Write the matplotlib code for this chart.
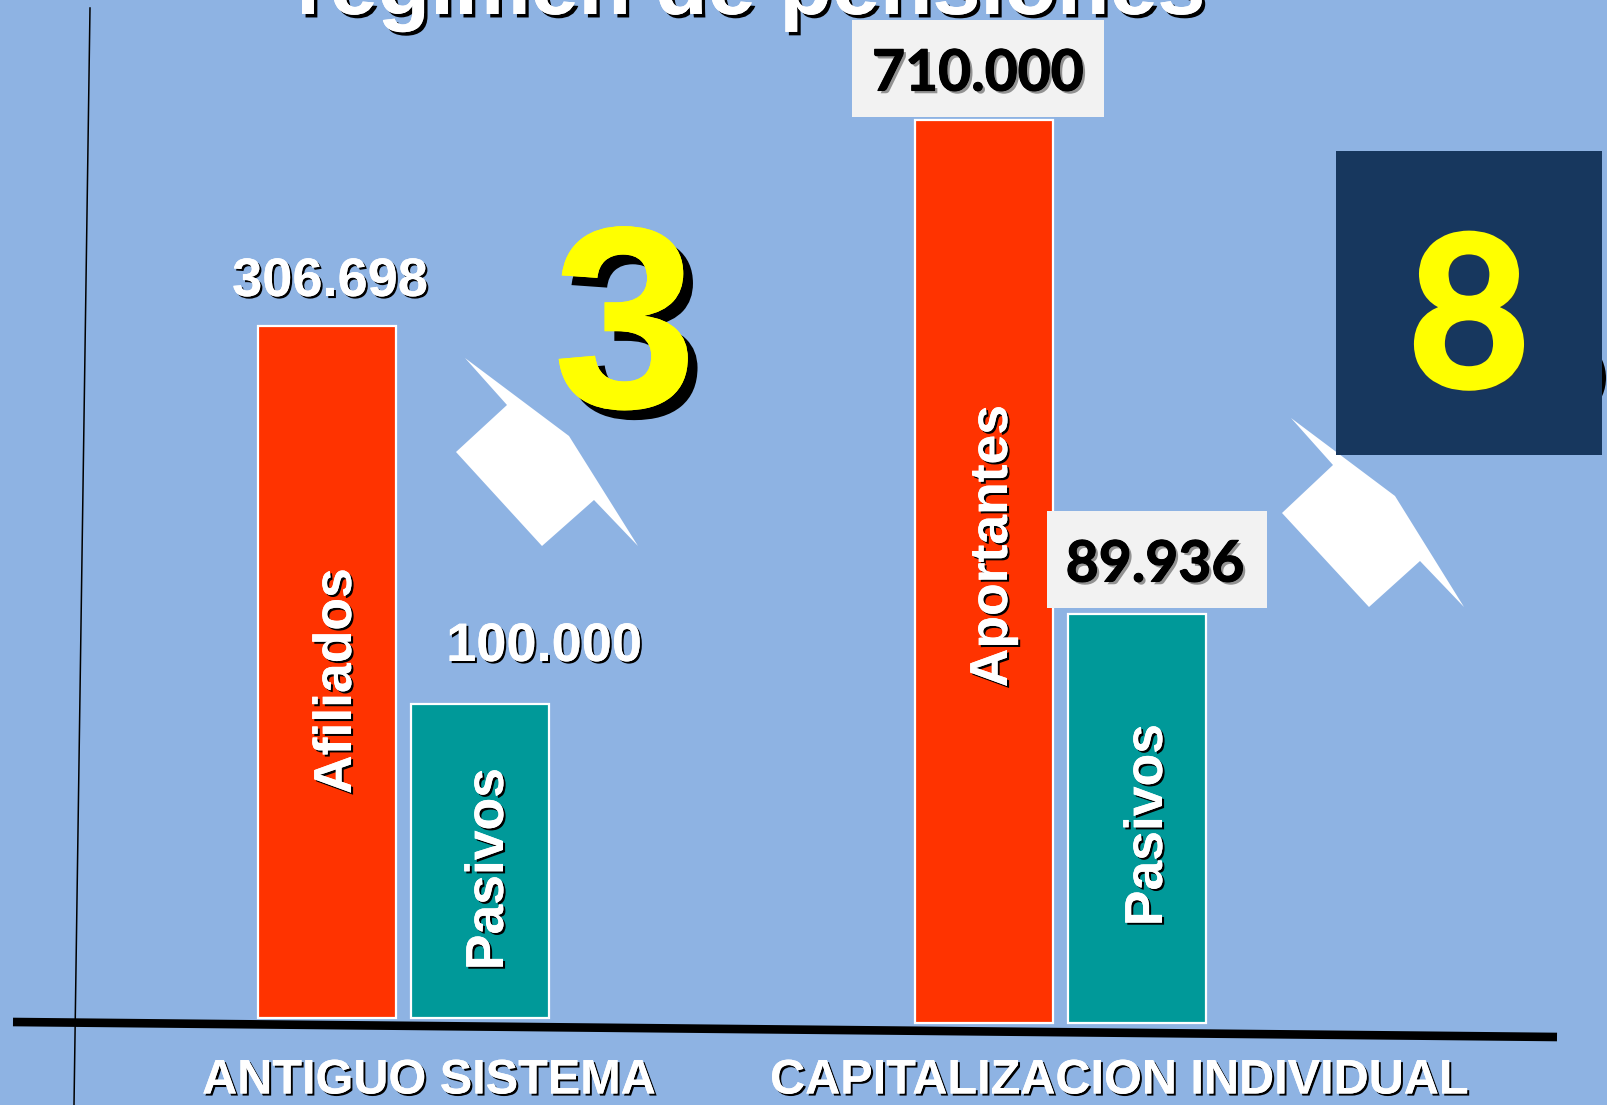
import matplotlib
matplotlib.use('Agg')
from matplotlib import pyplot as plt
from matplotlib import patches as mpatches
from matplotlib import patheffects as pe

# Bars (heights as drawn in the picture, the printed figures do not scale with them)
bar_names = ['Afiliados', 'Pasivos', 'Aportantes', 'Pasivos']
bar_heights = [692, 314, 903, 409]
bar_bases = [0, 0, -5, -5]
bar_left = [258, 411, 915, 1068]
bar_right = [396, 549, 1053, 1206]
bar_colors = ['#FF3300', '#009999', '#FF3300', '#009999']
value_labels = ['306.698', '100.000', '710.000', '89.936']
group_labels = ['ANTIGUO SISTEMA', 'CAPITALIZACION INDIVIDUAL']
title = 'regimen de pensiones'
bg = '#8EB3E3'

W, H = 1607, 1105
base_px = 1018

plt.rcParams['font.family'] = ['Liberation Sans', 'DejaVu Sans']
fig = plt.figure(figsize=(W/100., H/100.), dpi=100, facecolor=bg)

# Bars axes, zero is the left baseline
ax = fig.add_axes([0, 0, 1, 1])
ax.set_xlim(0, W)
ax.set_ylim(base_px-H, base_px)
ax.axis('off')
for i in range(len(bar_heights)):
    ax.bar(bar_left[i], bar_heights[i], bar_right[i]-bar_left[i], bottom=bar_bases[i], align='edge',
           color=bar_colors[i], edgecolor='white', linewidth=1.6)

# Everything else goes on top, in picture coordinates
ov = fig.add_axes([0, 0, 1, 1])
ov.set_xlim(0, W)
ov.set_ylim(H, 0)
ov.axis('off')

def shadow(d):
    return [pe.withSimplePatchShadow(offset=(d, -d), shadow_rgbFace='black', alpha=1.0), pe.Normal()]

# Soft shadow plus a thin stroke, Lato is lighter than the bold in the picture
def soft(col, w):
    return [pe.withSimplePatchShadow(offset=(2, -2), shadow_rgbFace='#333333', alpha=0.5),
            pe.withStroke(linewidth=w, foreground=col)]

# Axis lines
ov.plot([90, 74], [8, 1105], color='black', lw=1.1, zorder=2)
ov.plot([13, 1557], [1022, 1037], color='black', lw=6.2, solid_capstyle='butt', zorder=2)

# Title, cut by the top edge
ov.text(751, 14, title, color='white', fontsize=62, fontweight='bold', ha='center', va='baseline',
        path_effects=shadow(2.5), zorder=5)

# Labels inside the bars
label_x = [337, 489, 993, 1148]
label_y = [681, 869, 546, 825]
for i in range(4):
    ov.text(label_x[i], label_y[i], bar_names[i], color='white', fontsize=38.5, fontweight='bold', rotation=90,
            ha='center', va='center', path_effects=shadow(1.5), zorder=5)

# Value labels
ov.text(330, 282, value_labels[0], color='white', fontsize=39, fontweight='bold', ha='center', va='center',
        path_effects=shadow(1.5), zorder=5)
ov.text(544, 647, value_labels[1], color='white', fontsize=39, fontweight='bold', ha='center', va='center',
        path_effects=shadow(1.5), zorder=5)

ov.add_patch(mpatches.Rectangle((852, 20), 252, 97, color='#F2F2F2', lw=0, zorder=4))
ov.add_patch(mpatches.Rectangle((1047, 511), 220, 97, color='#F2F2F2', lw=0, zorder=4))
ov.text(978, 74, value_labels[2], color='black', fontsize=41, fontweight='bold', family=['Lato', 'DejaVu Sans'],
        ha='center', va='center', path_effects=soft('black', 0.8), zorder=5)
ov.text(1155, 565, value_labels[3], color='black', fontsize=41, fontweight='bold', family=['Lato', 'DejaVu Sans'],
        ha='center', va='center', path_effects=soft('black', 0.8), zorder=5)

# Group names
ov.text(429, 1081, group_labels[0], color='white', fontsize=35, fontweight='bold', ha='center', va='center',
        path_effects=shadow(1.5), zorder=5)
ov.text(1119, 1081, group_labels[1], color='white', fontsize=35, fontweight='bold', ha='center', va='center',
        path_effects=shadow(1.5), zorder=5)

# White arrows
ov.fill([465, 569, 638, 594, 542, 456, 507], [358, 436, 546, 500, 546, 452, 405], color='white', lw=0, zorder=3)
ov.fill([1291, 1395, 1464, 1420, 1369, 1282, 1333], [418, 496, 607, 561, 607, 513, 465], color='white', lw=0, zorder=3)

# Big numbers
ov.text(625, 340, '3', color='yellow', fontsize=187, fontweight='bold', ha='center', va='center',
        path_effects=shadow(7), zorder=5)
ov.add_patch(mpatches.Ellipse((1560, 378), 92, 90, color='black', lw=0, zorder=3))
ov.add_patch(mpatches.Rectangle((1336, 151), 266, 304, color='#17375E', lw=0, zorder=4))
ov.text(1469, 326, '8', color='yellow', fontsize=152, fontweight='bold', family=['Lato', 'DejaVu Sans'],
        ha='center', va='center', path_effects=soft('yellow', 3), zorder=5)

fig.savefig('out.png', dpi=100, facecolor=bg)
